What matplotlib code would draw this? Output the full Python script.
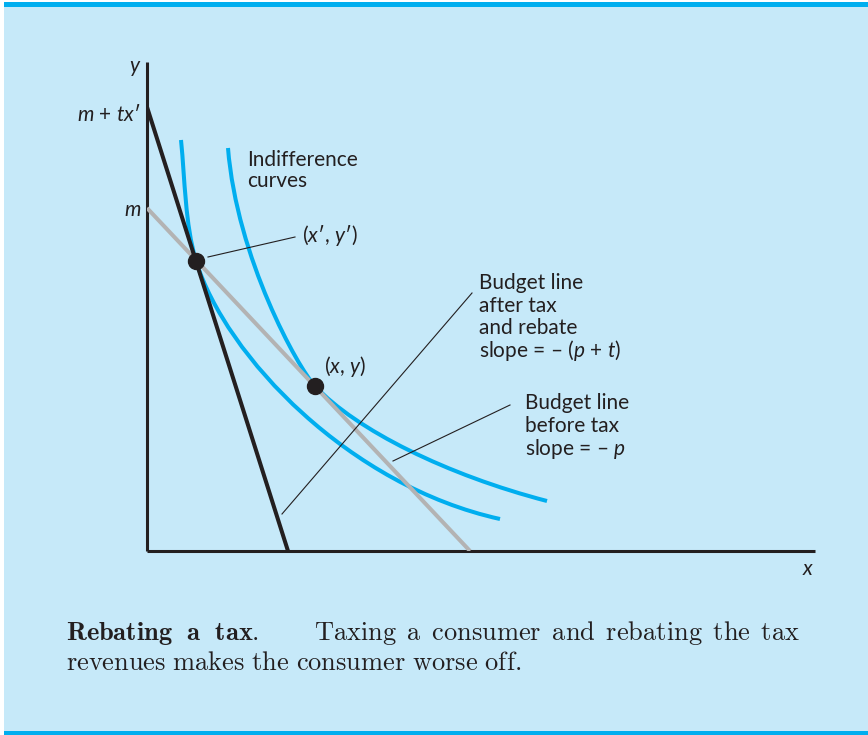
import matplotlib
matplotlib.use('Agg')
import matplotlib.pyplot as plt
from matplotlib.path import Path
from matplotlib.patches import PathPatch, Rectangle

plt.rcParams['font.family'] = ['Lato', 'DejaVu Sans']
plt.rcParams['mathtext.fontset'] = 'custom'
plt.rcParams['mathtext.rm'] = 'Lato'
plt.rcParams['mathtext.it'] = 'Lato:italic'
plt.rcParams['mathtext.bf'] = 'Lato:bold'

INK = '#231f20'
CYAN = '#00aeef'
GREY = '#b3b3b3'
PANEL = '#c6e9f9'

# budget lines, drawn between their two intercepts
before_x = [0, 323]
before_y = [343, 0]
after_x = [0, 141]
after_y = [444, 0]

# chosen bundles: (x', y') and (x, y)
chosen_x = [49, 168]
chosen_y = [290, 165]

# indifference curves as cubic bezier control points (two segments each)
inner_x = [34, 38, 38, 49, 79, 203, 353]
inner_y = [411, 371, 327, 290, 194, 65, 32]
outer_x = [81, 89.8, 151, 168, 209, 300, 400]
outer_y = [403, 293, 183, 165, 121, 76, 50]

# leader lines from labels to marks
leaders = [
    ([61, 148], [294, 314]),
    ([135, 325], [37, 258]),
    ([246, 363], [90, 146]),
]

# multi-line labels: (x, first baseline, line step, lines)
blocks = [
    (100, 385, 21, ['Indifference', 'curves']),
    (332, 262, 22.7, ['Budget line', 'after tax', 'and rebate',
                      'slope = \u2013 ($p$ + $t$)']),
    (378, 142, 23, ['Budget line', 'before tax', 'slope = \u2013 $p$']),
]

fig = plt.figure(figsize=(8.68, 7.35), dpi=100)
fig.patch.set_facecolor('white')

# panel background with the cyan rules
bg = fig.add_axes([0, 0, 1, 1])
bg.set_xlim(0, 868)
bg.set_ylim(735, 0)
bg.axis('off')
bg.add_patch(Rectangle((4, 2), 864, 733, color=PANEL, lw=0))
bg.add_patch(Rectangle((4, 2), 864, 4.5, color=CYAN, lw=0))
bg.add_patch(Rectangle((4, 731), 864, 4, color=CYAN, lw=0))

ax = fig.add_axes([147 / 868, 184 / 735, 668 / 868, 489 / 735])
ax.set_xlim(0, 668)
ax.set_ylim(0, 489)
ax.patch.set_alpha(0)
for s in ['top', 'right']:
    ax.spines[s].set_visible(False)
for s in ['left', 'bottom']:
    ax.spines[s].set_linewidth(2.2)
    ax.spines[s].set_color(INK)
    ax.spines[s].set_capstyle('butt')
ax.set_xticks([])
ax.set_yticks([])

codes = [Path.MOVETO] + [Path.CURVE4] * 6
for cx, cy in [(inner_x, inner_y), (outer_x, outer_y)]:
    path = Path(list(zip(cx, cy)), codes)
    ax.add_patch(PathPatch(path, fill=False, edgecolor=CYAN, lw=2.9,
                           capstyle='butt', zorder=2))

ax.plot(before_x, before_y, color=GREY, lw=2.9, solid_capstyle='butt', zorder=3)
ax.plot(after_x, after_y, color=INK, lw=2.9, solid_capstyle='butt', zorder=4)

for lx, ly in leaders:
    ax.plot(lx, ly, color=INK, lw=0.8, zorder=3)

ax.plot(chosen_x, chosen_y, 'o', ms=11.5, color=INK, zorder=5, clip_on=False)

fs = 15
kw = dict(fontsize=fs, color=INK, va='baseline')
ax.text(-12, 479, '$y$', ha='center', **kw)
ax.text(661, -24, '$x$', ha='center', **kw)
ax.text(-6, 430, '$m$ + $tx$\u2032', ha='right', **kw)
ax.text(-6, 335, '$m$', ha='right', **kw)
ax.text(155, 309, '($x$\u2032, $y$\u2032)', ha='left', **kw)
ax.text(177, 178, '($x$, $y$)', ha='left', **kw)
for bx, by, step, lines in blocks:
    for i, line in enumerate(lines):
        ax.text(bx, by - i * step, line, ha='left', **kw)

# caption set in Computer Modern, first line justified by wider word gaps
cap = 19
ckw = dict(math_fontfamily='cm', fontsize=cap, color=INK, va='baseline')
bg.text(66, 640, r'$\mathbf{Rebating\ \ a\ \ tax}\mathrm{.}$', ha='left', **ckw)
bg.text(800, 640,
        r'$\mathrm{Taxing\ \,a\ \,consumer\ \,and\ \,rebating\ \,the\ \,tax}$',
        ha='right', **ckw)
bg.text(66, 670, r'$\mathrm{revenues\ makes\ the\ consumer\ worse\ off.}$',
        ha='left', **ckw)

fig.savefig('out.png', dpi=100, facecolor=fig.get_facecolor())
